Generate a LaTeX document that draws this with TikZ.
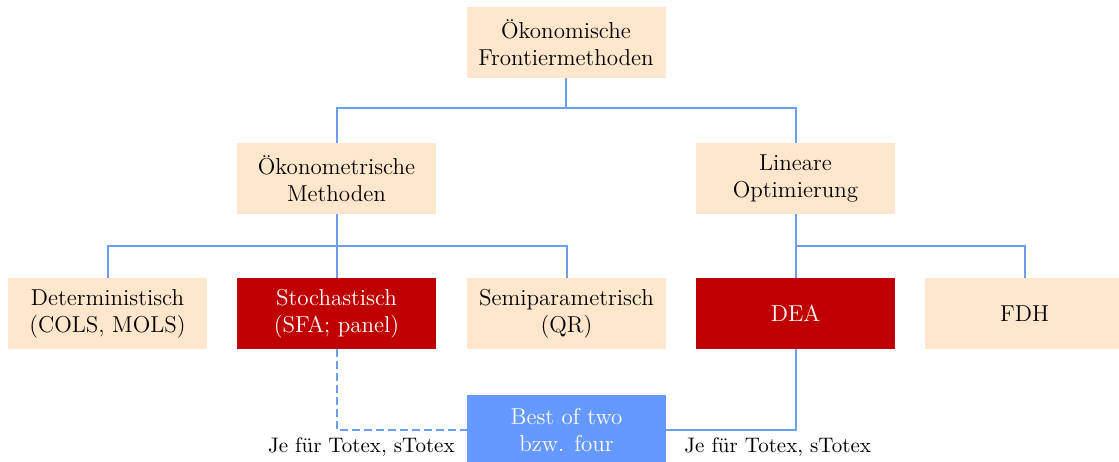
\documentclass[tikz,border=0pt]{standalone}
\usepackage{tikz}
\definecolor{boxbeige}{HTML}{FFE6CC}
\definecolor{boxred}{HTML}{C00000}
\definecolor{boxblue}{HTML}{6699FF}
\definecolor{linkblue}{HTML}{6D9EEB}

\begin{document}
\begin{tikzpicture}[x=0.5pt,y=-0.5pt,
    method/.style={fill=boxbeige,minimum width=99.5pt,minimum height=35.5pt,
        inner sep=0pt,align=center,font=\fontsize{11.5}{13.5}\selectfont},
    chosen/.style={method,fill=boxred,text=white},
    combo/.style={method,fill=boxblue,text=white},
    link/.style={draw=linkblue,line width=1pt}]
\useasboundingbox (0,0) rectangle (1119,461);
\clip (0,0) rectangle (1119,461);

% boxes
\node [method] (oekf)   at (566,42.5)    {Ökonomische\\Frontiermethoden};
\node [method] (oekm)   at (336.5,178.5) {Ökonometrische\\Methoden};
\node [method] (linopt) at (795.5,178.5) {Lineare\\Optimierung};
\node [method] (det)    at (107.5,313.5) {Deterministisch\\(COLS, MOLS)};
\node [chosen] (sfa)    at (336.5,313.5) {Stochastisch\\(SFA; panel)};
\node [method] (semi)   at (566.5,313.5) {Semiparametrisch\\(QR)};
\node [chosen] (dea)    at (795.5,313.5) {DEA};
\node [method] (fdh)    at (1024.5,313.5) {FDH};
\node [combo]  (best)   at (566.5,430)   {Best of two\\bzw. four};

% tree
\draw [link] (oekf.south) -- ++(0,30) -| (oekm.north);
\draw [link] (oekf.south) -- ++(0,30) -| (linopt.north);
\foreach \c in {det,sfa,semi}
    \draw [link] (oekm.south) -- ++(0,32) -| (\c.north);
\foreach \c in {dea,fdh}
    \draw [link] (linopt.south) -- ++(0,32) -| (\c.north);

% combination
\draw [link,dash pattern=on 4pt off 2pt] (sfa.south) |- (best.west);
\draw [link] (dea.south) |- (best.east);

    \node [anchor=east,inner sep=1pt,font=\fontsize{10.5}{12}\selectfont] (jesfa) at (457,447) {Je für Totex, sTotex};  % left label
    \node [anchor=west,inner sep=1pt,font=\fontsize{10.5}{12}\selectfont] (jedea) at (682,447) {Je für Totex, sTotex};  % right label
\end{tikzpicture}
\end{document}
